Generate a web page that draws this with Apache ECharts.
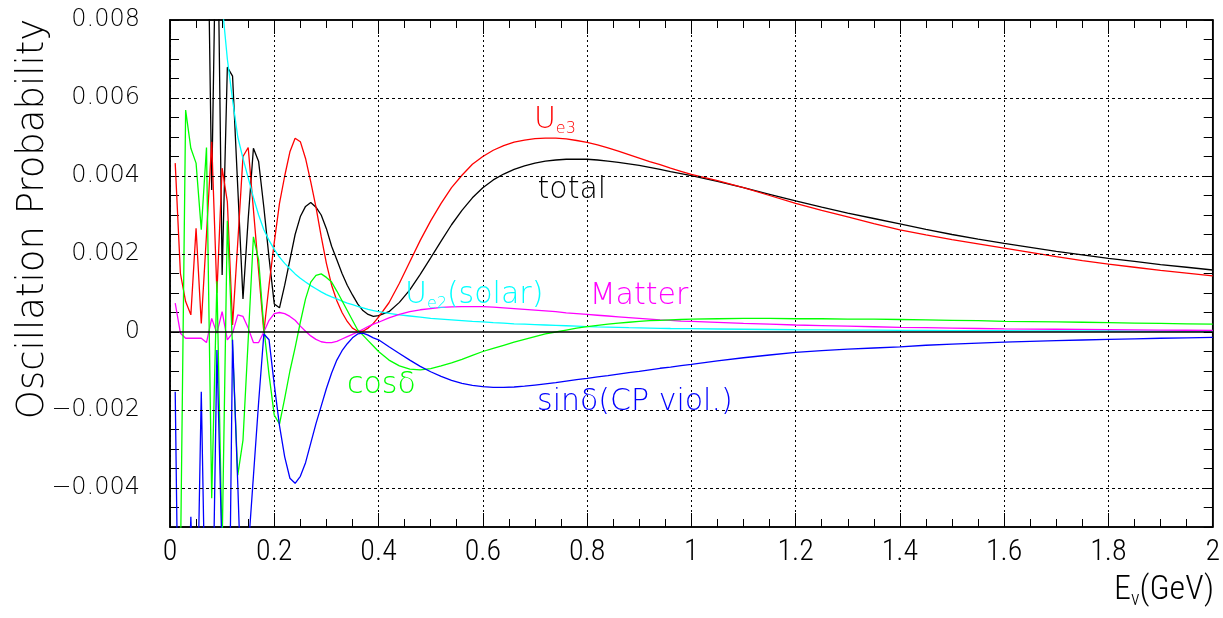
<!DOCTYPE html>
<html><head><meta charset="utf-8">
<script src="https://cdn.jsdelivr.net/npm/echarts@6/dist/echarts.min.js"></script>
<style>html,body{margin:0;padding:0;background:#fff}#c{width:1223px;height:618px}</style>
</head><body><div id="c"></div>
<script>
// Energy grid (GeV)
const energy = [0.01,0.02,0.03,0.04,0.05,0.06,0.07,0.08,0.09,0.10,
  0.11,0.12,0.13,0.14,0.15,0.16,0.17,0.18,0.19,0.20,
  0.21,0.22,0.23,0.24,0.25,0.26,0.27,0.28,0.29,0.30,
  0.31,0.32,0.33,0.34,0.35,0.36,0.37,0.38,0.39,0.40,
  0.42,0.44,0.46,0.48,0.50,0.52,0.54,0.56,0.58,0.60,
  0.62,0.64,0.66,0.68,0.70,0.72,0.74,0.76,0.78,0.80,
  0.82,0.84,0.86,0.88,0.90,0.92,0.94,0.96,0.98,1.00,
  1.05,1.10,1.15,1.20,1.25,1.30,1.35,1.40,1.45,1.50,
  1.55,1.60,1.65,1.70,1.75,1.80,1.85,1.90,1.95,2.00];
// Probabilities in units of 1e-3
const ue3 = [4.33,1.5,0.78,0.44,2.66,0.22,2.5,4.88,1.0,4.2,
  3.34,0.18,2.3,4.5,4.73,3.14,1.56,0.0,1.2,2.3,
  3.3,4.0,4.62,4.97,4.88,4.45,3.85,3.2,2.45,1.76,
  1.2,0.8,0.5,0.27,0.1,0.02,0.02,0.1,0.22,0.38,
  0.75,1.25,1.8,2.35,2.85,3.3,3.7,4.02,4.3,4.5,
  4.66,4.78,4.87,4.92,4.96,4.97,4.97,4.95,4.91,4.86,
  4.8,4.72,4.64,4.55,4.46,4.37,4.29,4.2,4.12,4.04,
  3.88,3.7,3.5,3.3,3.12,2.95,2.78,2.62,2.49,2.37,
  2.26,2.15,2.04,1.93,1.83,1.74,1.66,1.58,1.51,1.44];
const total = [30,25,20,17,15,14,13,3.64,12,1.46,
  6.79,6.56,3.7,0.85,2.9,4.71,4.37,3.2,1.9,0.72,
  0.62,1.2,1.85,2.5,2.96,3.22,3.32,3.2,3.0,2.65,
  2.2,1.85,1.5,1.2,0.95,0.72,0.55,0.45,0.4,0.42,
  0.52,0.76,1.08,1.48,1.9,2.33,2.75,3.12,3.44,3.7,
  3.9,4.05,4.17,4.26,4.33,4.38,4.41,4.43,4.43,4.43,
  4.41,4.38,4.35,4.31,4.27,4.22,4.17,4.11,4.06,4.01,
  3.86,3.7,3.53,3.36,3.2,3.05,2.91,2.77,2.63,2.5,
  2.38,2.27,2.17,2.07,1.98,1.89,1.81,1.73,1.66,1.59];
const ue2solar = [null,null,null,null,null,null,null,13,10.4,8.4,
  7.0,5.95,5.0,4.45,3.95,3.45,3.0,2.62,2.35,2.12,
  1.92,1.76,1.62,1.49,1.38,1.28,1.19,1.11,1.03,0.96,
  0.9,0.85,0.79,0.74,0.7,0.66,0.62,0.58,0.55,0.52,
  0.48,0.44,0.41,0.38,0.35,0.33,0.31,0.29,0.27,0.26,
  0.24,0.23,0.21,0.2,0.19,0.18,0.17,0.16,0.15,0.14,
  0.13,0.125,0.12,0.11,0.105,0.1,0.095,0.09,0.087,0.084,
  0.077,0.07,0.064,0.058,0.054,0.05,0.046,0.043,0.04,0.037,
  0.035,0.033,0.031,0.029,0.027,0.026,0.025,0.023,0.022,0.021];
const matter = [0.74,-0.03,-0.16,-0.16,-0.16,-0.16,-0.27,0.35,-0.03,0.52,
  -0.2,-0.03,0.44,0.4,0.1,-0.27,-0.27,0.0,0.3,0.47,
  0.5,0.47,0.4,0.3,0.15,0.02,-0.1,-0.19,-0.25,-0.27,
  -0.27,-0.24,-0.18,-0.12,-0.06,0.0,0.07,0.14,0.2,0.25,
  0.36,0.45,0.52,0.57,0.6,0.63,0.645,0.65,0.65,0.65,
  0.64,0.62,0.6,0.58,0.56,0.54,0.52,0.49,0.47,0.45,
  0.43,0.41,0.39,0.37,0.35,0.33,0.31,0.3,0.28,0.27,
  0.245,0.22,0.2,0.18,0.165,0.15,0.135,0.12,0.11,0.1,
  0.09,0.08,0.075,0.07,0.065,0.06,0.055,0.05,0.045,0.04];
const cosd = [-6,-6,5.69,4.71,4.33,2.62,4.73,-4.26,1.3,-5.5,
  2.85,-0.4,-3.67,-2.77,-0.2,2.44,1.85,0.1,-1.1,-2.13,
  -2.36,-1.7,-1.0,-0.4,0.25,0.85,1.28,1.45,1.49,1.4,
  1.28,1.05,0.8,0.55,0.3,0.05,-0.08,-0.22,-0.36,-0.5,
  -0.72,-0.87,-0.95,-0.97,-0.94,-0.87,-0.79,-0.7,-0.6,-0.5,
  -0.42,-0.34,-0.26,-0.19,-0.12,-0.05,0.0,0.05,0.1,0.14,
  0.17,0.2,0.23,0.25,0.27,0.29,0.3,0.31,0.32,0.33,
  0.34,0.35,0.35,0.34,0.34,0.33,0.33,0.32,0.31,0.3,
  0.29,0.27,0.265,0.26,0.25,0.24,0.23,0.22,0.21,0.2];
const sind = [-1.53,-12,-9,-4.74,-9,-1.53,-9,-9,-0.46,-5.8,
  -12,-0.2,-3.9,-8,-5.6,-3.7,-1.8,-0.05,-0.2,-1.35,
  -2.4,-3.2,-3.75,-3.88,-3.7,-3.35,-2.85,-2.35,-1.9,-1.45,
  -1.05,-0.72,-0.48,-0.3,-0.15,-0.05,-0.03,-0.08,-0.15,-0.2,
  -0.38,-0.55,-0.72,-0.88,-1.02,-1.14,-1.24,-1.32,-1.37,-1.4,
  -1.42,-1.42,-1.41,-1.39,-1.36,-1.33,-1.3,-1.26,-1.22,-1.19,
  -1.15,-1.12,-1.08,-1.04,-1.01,-0.97,-0.93,-0.9,-0.86,-0.83,
  -0.74,-0.66,-0.59,-0.52,-0.48,-0.44,-0.41,-0.38,-0.34,-0.31,
  -0.285,-0.26,-0.24,-0.22,-0.205,-0.19,-0.175,-0.16,-0.15,-0.14];
const yGridValues = [-4,-2,2,4,6];

const FONT = "'DejaVu Sans'";
const NARROW = "'Liberation Sans Narrow','Roboto Condensed','Liberation Sans'";
const pair = arr => energy.map((e,i)=>[e, arr[i]]);
const mk = (name, arr, color, extra) => Object.assign({
  name, type:'line', data: pair(arr), showSymbol:false, symbol:'none',
  lineStyle:{color, width:1.3}, itemStyle:{color}, animation:false, clip:true, z:3
}, extra||{});

const chart = echarts.init(document.getElementById('c'), null, {renderer:'canvas'});
const xAxisBase = pos => ({
  type:'value', min:0, max:2, interval:0.2, position:pos,
  axisLine:{show:true, onZero:false, lineStyle:{color:'#000', width:1.5}},
  axisTick:{show:true, inside:true, length:14, lineStyle:{color:'#000'}},
  minorTick:{show:true, splitNumber:4, length:8, lineStyle:{color:'#000'}}
});
const yAxisBase = pos => ({
  type:'value', min:-5, max:8, interval:1, position:pos,
  axisLine:{show:true, onZero:false, lineStyle:{color:'#000', width:1.5}},
  axisTick:{show:true, inside:true, length:9, lineStyle:{color:'#000'}},
  minorTick:{show:true, splitNumber:2, length:9, lineStyle:{color:'#000'}},
  splitLine:{show:false}
});
chart.setOption({
  backgroundColor:'#fff',
  animation:false,
  grid:{left:170, right:10, top:20, bottom:91, show:true, borderColor:'#000', borderWidth:1.5, backgroundColor:'transparent'},
  xAxis:[Object.assign(xAxisBase('bottom'), {
    axisLabel:{color:'#000', fontSize:30, fontFamily:NARROW, fontWeight:300, margin:10},
    splitLine:{show:true, lineStyle:{color:'#000', type:[2,3], width:1}}
  }), Object.assign(xAxisBase('top'), {axisLabel:{show:false}, splitLine:{show:false}})],
  yAxis:[Object.assign(yAxisBase('left'), {
    axisLabel:{color:'#000', fontSize:24, fontFamily:FONT, fontWeight:200, margin:30,
      formatter: v => { const r = Math.round(v); if (r % 2 !== 0) return ''; if (r===0) return '0'; return (r/1000).toFixed(3).replace('-', '\u2212'); }}
  }), Object.assign(yAxisBase('right'), {axisLabel:{show:false}})],
  series:[
    mk('total', total, '#000000', {
      markLine:{silent:true, symbol:'none', animation:false, label:{show:false},
        data: yGridValues.map(v=>({yAxis:v, lineStyle:{color:'#000', type:[3,3], width:1}}))
          .concat([{yAxis:0, lineStyle:{color:'#000', type:'solid', width:1.5}}])}
    }),
    mk('Ue3', ue3, '#ff0000'),
    mk('Ue2(solar)', ue2solar, '#00ffff'),
    mk('Matter', matter, '#ff00ff'),
    mk('cos', cosd, '#00ff00'),
    mk('sin', sind, '#0000ff')
  ]
});

// annotations anchored in data coordinates
const ann = [
  {at:[0.698, 5.44], text:'{u|U}{s|e3}', color:'#ff0000'},
  {at:[0.705, 3.64], text:'{u|total}', color:'#000000'},
  {at:[0.4506, 0.95], text:'{u|U}{s|e2}{u|(solar)}', color:'#00ffff'},
  {at:[0.805, 0.92], text:'{u|Matter}', color:'#ff00ff'},
  {at:[0.3394, -1.36], text:'{u|cos\u03b4}', color:'#00ff00'},
  {at:[0.704, -1.79], text:'{u|sin\u03b4(CP viol.)}', color:'#0000ff'}
];
const graphics = ann.map(a => {
  const p = chart.convertToPixel({gridIndex:0}, a.at);
  return {type:'text', x:p[0], y:p[1], silent:true, z:10,
    style:{text:a.text, fill:a.color, align:'left', verticalAlign:'middle',
      rich:{
        u:{fontSize:30, fontFamily:FONT, fontWeight:200, fill:a.color, lineHeight:34},
        s:{fontSize:16, fontFamily:FONT, fontWeight:200, fill:a.color, lineHeight:16, verticalAlign:'bottom'}
      }}};
});
graphics.push({type:'text', x:33, y:219, rotation:Math.PI/2, silent:true,
  style:{text:'Oscillation Probability', fill:'#000', fontSize:37, fontFamily:FONT, fontWeight:200, align:'center', verticalAlign:'middle'}});
graphics.push({type:'text', x:1214, y:590, silent:true,
  style:{text:'{a|E}{b|\u03bd}{a|(GeV)}', fill:'#000', align:'right', verticalAlign:'middle',
    rich:{a:{fontSize:34, fontFamily:NARROW, fontWeight:300, fill:'#000', lineHeight:40}, b:{fontSize:20, fontFamily:NARROW, fontWeight:300, fill:'#000', lineHeight:20, verticalAlign:'bottom'}}}});
chart.setOption({graphic:graphics});
</script></body></html>
